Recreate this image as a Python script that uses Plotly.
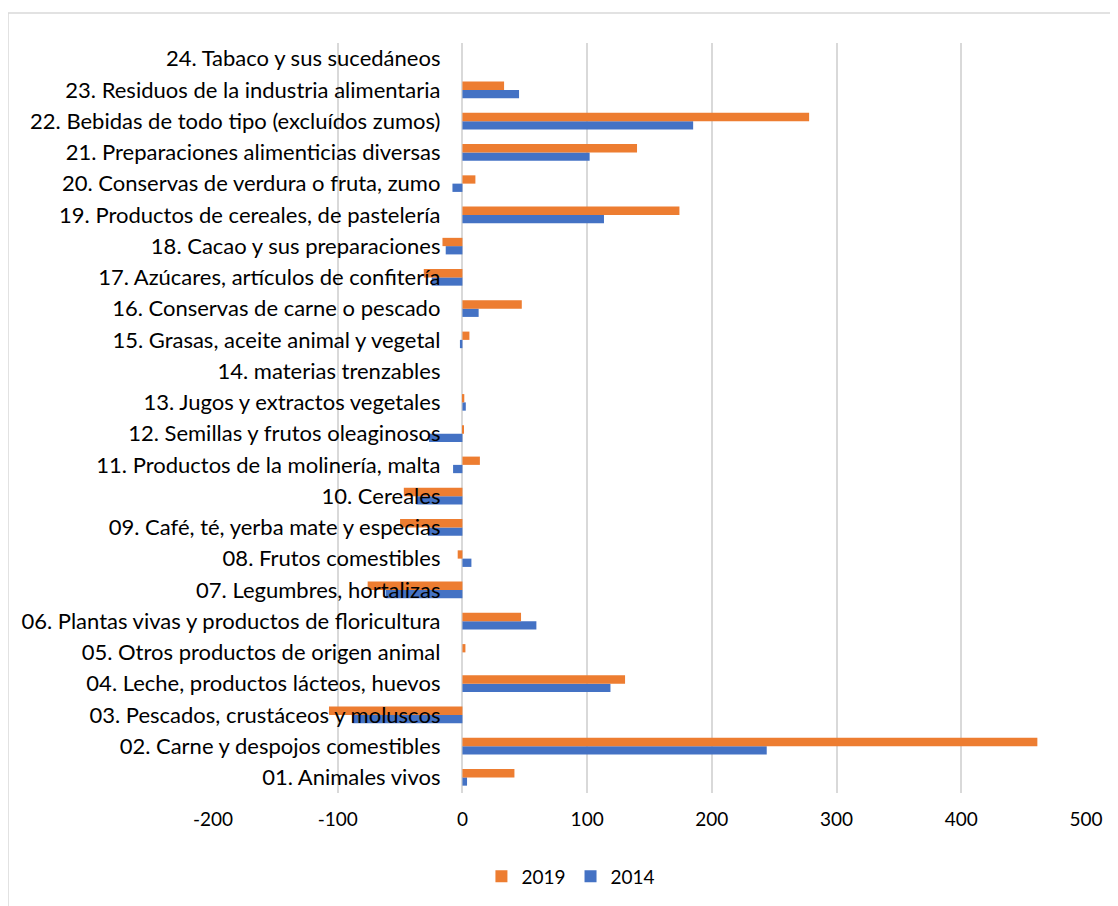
import plotly.graph_objects as go

categories = [
    "01. Animales vivos",
    "02. Carne y despojos comestibles",
    "03. Pescados, crustáceos y moluscos",
    "04. Leche, productos lácteos, huevos",
    "05. Otros productos de origen animal",
    "06. Plantas vivas y productos de floricultura",
    "07. Legumbres, hortalizas",
    "08. Frutos comestibles",
    "09. Café, té, yerba mate y especias",
    "10. Cereales",
    "11. Productos de la molinería, malta",
    "12. Semillas y frutos oleaginosos",
    "13. Jugos y extractos vegetales",
    "14. materias trenzables",
    "15. Grasas, aceite animal y vegetal",
    "16. Conservas de carne o pescado",
    "17. Azúcares, artículos de confitería",
    "18. Cacao y sus preparaciones",
    "19. Productos de cereales, de pastelería",
    "20. Conservas de verdura o fruta, zumo",
    "21. Preparaciones alimenticias diversas",
    "22. Bebidas de todo tipo (excluídos zumos)",
    "23. Residuos de la industria alimentaria",
    "24. Tabaco y sus sucedáneos",
]

values_2019 = [41.7, 461, -107, 130.4, 2.4, 47, -76, -3.8, -50, -47, 14, 1,
               1.5, 0, 5.6, 47.6, -31, -16, 174, 10.4, 140, 278, 33.4, 0]
values_2014 = [3.7, 244, -88.2, 118.7, 0, 59.3, -61.5, 7.2, -27.6, -37, -7.5, -26.8,
               2.7, 0, -2, 13, -24.6, -13.4, 113.5, -8, 102, 185, 45.4, 0]

x_ticks = [-200, -100, 0, 100, 200, 300, 400, 500]
x_tick_labels = ["-200", "-100", "0", "100", "200", "300", "400", "500"]

ORANGE = "#ED7D31"
BLUE = "#4472C4"
FONT = "Lato"

fig = go.Figure()
fig.add_trace(go.Bar(y=categories, x=values_2014, name="2014", orientation="h",
                     marker=dict(color=BLUE, line=dict(width=0))))
fig.add_trace(go.Bar(y=categories, x=values_2019, name="2019", orientation="h",
                     marker=dict(color=ORANGE, line=dict(width=0))))

xmin, xmax = -200, 500
zero_pos = (0 - xmin) / (xmax - xmin)

L, R, T, B = 205, 40, 35, 121
plot_w = 1118 - L - R
plot_h = 906 - T - B

fig.update_layout(
    width=1118, height=906,
    margin=dict(l=L, r=R, t=T, b=B),
    paper_bgcolor="white", plot_bgcolor="white",
    barmode="group", bargap=0.47, bargroupgap=0,
    font=dict(family=FONT, size=22, color="#000000"),
    showlegend=True,
    legend=dict(orientation="h", traceorder="reversed", x=0.41, xanchor="center",
                y=-0.086, yanchor="top", font=dict(size=19, color="#000000"),
                itemwidth=30, tracegroupgap=0),
    xaxis=dict(range=[xmin, xmax], tickvals=x_ticks, ticktext=x_tick_labels,
               showgrid=True,
               gridcolor="#d9d9d9", gridwidth=1.5, zeroline=True,
               zerolinecolor="#d9d9d9", zerolinewidth=1.5, showline=False,
               ticks="", ticklabelstandoff=13,
               tickfont=dict(size=19, color="#000000")),
    yaxis=dict(type="category", categoryorder="array", categoryarray=categories,
               anchor="free", position=zero_pos, showgrid=False, zeroline=False,
               showline=False, ticks="", ticklabelstandoff=22,
               tickfont=dict(size=22, color="#000000"),
               range=[-0.5, len(categories) - 0.5]),
    shapes=[dict(type="rect", xref="paper", yref="paper",
                 x0=-L / plot_w, x1=1.2, y0=-0.3, y1=1 + (T - 5) / plot_h,
                 line=dict(color="#d9d9d9", width=1.5), fillcolor="rgba(0,0,0,0)",
                 layer="below")],
)

fig.write_html("out.html")
